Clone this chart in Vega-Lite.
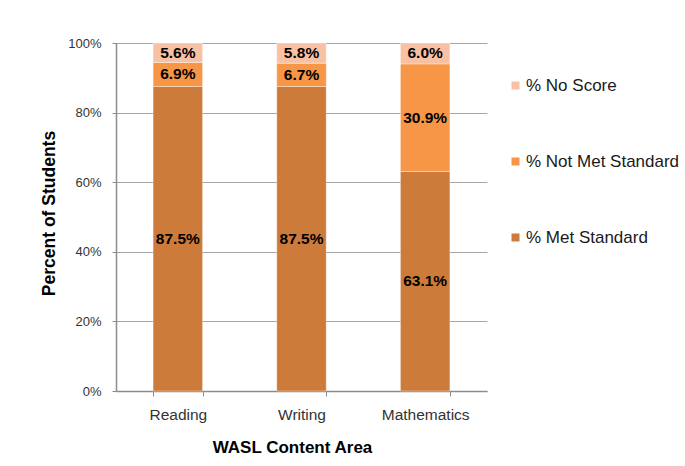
{
  "$schema": "https://vega.github.io/schema/vega-lite/v6.json",
  "width": 371,
  "height": 348,
  "autosize": {"type": "none"},
  "padding": {"left": 116, "top": 43, "right": 198, "bottom": 75},
  "background": "white",
  "config": {
    "view": {"stroke": null},
    "font": "Liberation Sans",
    "axis": {
      "labelFont": "Liberation Sans",
      "titleFont": "Liberation Sans",
      "labelFontSize": 13,
      "labelColor": "#333333",
      "titleFontSize": 17,
      "titleFontWeight": "bold",
      "titleColor": "#000000",
      "domainColor": "#8c8c8c",
      "tickColor": "#8c8c8c",
      "gridColor": "#a6a6a6",
      "domainWidth": 1.5,
      "gridWidth": 1.2
    }
  },
  "data": {
    "values": [
      {"area": "Reading", "status": "% Met Standard", "ord": 1, "share": 0.875},
      {"area": "Reading", "status": "% Not Met Standard", "ord": 2, "share": 0.069},
      {"area": "Reading", "status": "% No Score", "ord": 3, "share": 0.056},
      {"area": "Writing", "status": "% Met Standard", "ord": 1, "share": 0.875},
      {"area": "Writing", "status": "% Not Met Standard", "ord": 2, "share": 0.067},
      {"area": "Writing", "status": "% No Score", "ord": 3, "share": 0.058},
      {"area": "Mathematics", "status": "% Met Standard", "ord": 1, "share": 0.631},
      {"area": "Mathematics", "status": "% Not Met Standard", "ord": 2, "share": 0.309},
      {"area": "Mathematics", "status": "% No Score", "ord": 3, "share": 0.06}
    ]
  },
  "transform": [
    {"stack": "share", "groupby": ["area"], "sort": [{"field": "ord", "order": "ascending"}], "as": ["lo", "hi"]},
    {"calculate": "(datum.lo + datum.hi) / 2", "as": "mid"}
  ],
  "encoding": {
    "x": {
      "field": "area",
      "type": "nominal",
      "sort": ["Reading", "Writing", "Mathematics"],
      "scale": {"paddingInner": 0.6, "paddingOuter": 0.3},
      "axis": {
        "title": "WASL Content Area",
        "labelAngle": 0,
        "labelPadding": 11,
        "titlePadding": 17,
        "titleX": 176,
        "tickBand": "extent",
        "tickSize": 5,
        "labelFontSize": 15.5
      }
    }
  },
  "layer": [
    {
      "mark": {"type": "bar", "stroke": "#ffffff", "strokeWidth": 0.6, "strokeOpacity": 0.6},
      "encoding": {
        "y": {
          "field": "lo",
          "type": "quantitative",
          "scale": {"domain": [0, 1], "nice": false},
          "axis": {
            "title": "Percent of Students",
            "format": ".0%",
            "values": [0, 0.2, 0.4, 0.6, 0.8, 1],
            "tickSize": 4,
            "labelPadding": 11,
            "titlePadding": 9,
            "titleFontSize": 17.5,
            "titleY": 170,
            "grid": true
          }
        },
        "y2": {"field": "hi"},
        "color": {
          "field": "status",
          "type": "nominal",
          "scale": {
            "domain": ["% Met Standard", "% Not Met Standard", "% No Score"],
            "range": ["#cc7b3a", "#f79646", "#f9c1a3"]
          },
          "legend": {
            "title": null,
            "orient": "none",
            "legendX": 391,
            "legendY": 34,
            "values": ["% No Score", "% Not Met Standard", "% Met Standard"],
            "symbolType": "square",
            "symbolSize": 64,
            "symbolStrokeWidth": 0,
            "labelFont": "Liberation Sans",
            "labelFontSize": 17,
            "labelColor": "#1a1a1a",
            "labelOffset": 2,
            "rowPadding": 58,
            "labelLimit": 250
          }
        }
      }
    },
    {
      "mark": {"type": "text", "font": "Liberation Sans", "fontWeight": "bold", "fontSize": 15.5, "color": "#000000", "baseline": "middle"},
      "encoding": {
        "y": {"field": "mid", "type": "quantitative"},
        "text": {"field": "share", "type": "quantitative", "format": ".1%"}
      }
    }
  ]
}
